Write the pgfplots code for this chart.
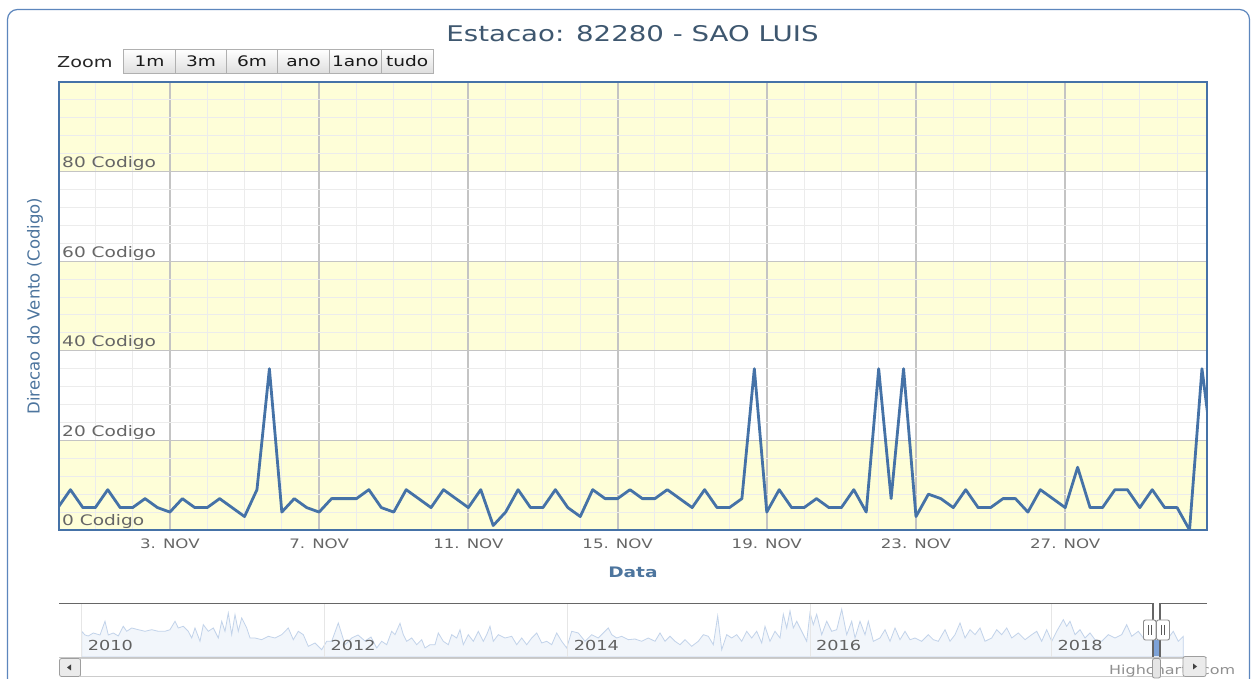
\documentclass[border=0pt]{standalone}
\usepackage{pgfplots}
\pgfplotsset{compat=1.18}
\usepackage{fontspec}
\setmainfont[FakeStretch=1.28]{DejaVu Sans}
\newfontfamily\rotfont{DejaVu Sans}
\newcommand{\fs}[1]{\fontsize{#1}{#1}\selectfont}
\definecolor{hcblue}{HTML}{4572A7}
\definecolor{bandyellow}{HTML}{FEFED8}
\definecolor{titlecol}{HTML}{3E576F}
\definecolor{axtitle}{HTML}{4D759E}
\definecolor{labcol}{HTML}{666666}
\definecolor{gridmaj}{HTML}{C4C4C4}
\definecolor{gridmin}{HTML}{ECECEC}
\definecolor{navline}{HTML}{C2D3EA}
\definecolor{navfill}{HTML}{F2F6FB}
\definecolor{btnfill}{HTML}{EBEBEB}
\definecolor{btnborder}{HTML}{B0B0B0}
\definecolor{credit}{HTML}{909090}
\definecolor{navgrid}{HTML}{E6E6E6}
\definecolor{navsel}{HTML}{7EA3D8}
\definecolor{frame}{HTML}{5C86BD}
\tikzset{img/.style={x=1pt,y=-1pt,yshift=679pt}}

\begin{document}
\begin{tikzpicture}
\useasboundingbox (0pt,0pt) rectangle (1256pt,679pt);
\clip (0pt,0pt) rectangle (1256pt,679pt);
\fill[white] (0pt,0pt) rectangle (1256pt,679pt);
\begin{scope}[img]
\draw[frame, line width=1.2pt, rounded corners=10] (7.5,9.5) rectangle (1249.5,720);
% title
\node[anchor=base, text=titlecol, font=\fs{21.6}, inner sep=0] at (632.5,42) {Estacao: 82280 - SAO LUIS};
% zoom buttons
\node[anchor=base west, font=\fs{15}, text=black!85, inner sep=0] at (57,68) {Zoom};
\foreach \a/\b/\t in {123.5/175.5/1m, 175.5/226.5/3m, 226.5/277.5/6m, 277.5/329.5/ano, 329.5/381/1ano, 381/433.5/tudo}{
  \draw[top color=white, bottom color=black!13, draw=btnborder, line width=0.8pt] (\a,49.5) rectangle (\b,73.5);
  \node[anchor=base, font=\fs{14.5}, text=black!90, inner sep=0] at ({(\a+\b)/2},67) {\t};
}
\end{scope}

% plot bands
\begin{axis}[
  at={(59pt,149pt)}, anchor=south west, scale only axis,
  width=1148pt, height=448pt,
  xmin=0.08, xmax=92.4, ymin=0, ymax=100,
  hide axis,
]
\fill[bandyellow] (axis cs:-5,0) rectangle (axis cs:100,20);
\fill[bandyellow] (axis cs:-5,40) rectangle (axis cs:100,60);
\fill[bandyellow] (axis cs:-5,80) rectangle (axis cs:100,100);
\end{axis}

% main chart
\begin{axis}[
  at={(59pt,149pt)}, anchor=south west, scale only axis,
  width=1148pt, height=448pt,
  xmin=0.08, xmax=92.4, ymin=0, ymax=100,
  axis line style={draw=hcblue, line width=2pt},
  tick style={draw=none},
  xtick={9,21,33,45,57,69,81},
  xticklabels={3. NOV,7. NOV,11. NOV,15. NOV,19. NOV,23. NOV,27. NOV},
  ytick={0,20,40,60,80},
  yticklabels={0 Codigo,20 Codigo,40 Codigo,60 Codigo,80 Codigo},
  minor xtick={0,3,...,93},
  minor ytick={4,8,...,96},
  xmajorgrids, ymajorgrids, xminorgrids, yminorgrids,
  major x grid style={draw=gridmaj, line width=2pt},
  major y grid style={draw=gridmaj, line width=1pt},
  minor x grid style={draw=gridmin, line width=1pt},
  minor y grid style={draw=gridmin, line width=1pt},
  yticklabel style={anchor=base west, xshift=3pt, yshift=4pt, inner sep=0pt, font=\fs{14.5}, text=labcol},
  xticklabel style={anchor=base, yshift=-19pt, inner sep=0pt, font=\fs{13}, text=labcol},
  xlabel={Data},
  xlabel style={at={(axis description cs:0.5,0)}, anchor=base, yshift=-48pt, inner sep=0pt, font=\fs{14.5}\bfseries, text=axtitle},
  ylabel={Direcao do Vento (Codigo)},
  ylabel style={at={(axis description cs:0,0.5)}, anchor=center, yshift=24pt, inner sep=0pt, font=\rotfont\fs{16.5}, text=axtitle},
]
\addplot[hcblue, line width=2.8pt, line join=round, line cap=round, mark=none] coordinates {
(0,5) (1,9) (2,5) (3,5) (4,9) (5,5) (6,5) (7,7) (8,5) (9,4)
(10,7) (11,5) (12,5) (13,7) (14,5) (15,3) (16,9) (17,36) (18,4) (19,7)
(20,5) (21,4) (22,7) (23,7) (24,7) (25,9) (26,5) (27,4) (28,9) (29,7)
(30,5) (31,9) (32,7) (33,5) (34,9) (35,1) (36,4) (37,9) (38,5) (39,5)
(40,9) (41,5) (42,3) (43,9) (44,7) (45,7) (46,9) (47,7) (48,7) (49,9)
(50,7) (51,5) (52,9) (53,5) (54,5) (55,7) (56,36) (57,4) (58,9) (59,5)
(60,5) (61,7) (62,5) (63,5) (64,9) (65,4) (66,36) (67,7) (68,36) (69,3)
(70,8) (71,7) (72,5) (73,9) (74,5) (75,5) (76,7) (77,7) (78,4) (79,9)
(80,7) (81,5) (82,14) (83,5) (84,5) (85,9) (86,9) (87,5) (88,9) (89,5)
(90,5) (91,0) (92,36) (93,14)
};
\end{axis}

% navigator
\begin{scope}[img]
\draw[draw=black!20, line width=0.8pt] (80,658.5) rectangle (1183,676.5);
\node[anchor=base west, font=\fs{12.5}, text=credit, inner sep=0] at (1109,675) {Highcharts.com};
\end{scope}
\begin{axis}[
  at={(59pt,22pt)}, anchor=south west, scale only axis,
  width=1148pt, height=54pt,
  xmin=59, xmax=1207, ymin=0, ymax=54,
  axis on top,
  axis line style={draw=none},
  tick style={draw=none},
  ytick=\empty,
  xtick={81.7,324.5,567.7,810,1051.5},
  xticklabels={2010,2012,2014,2016,2018},
  xmajorgrids,
  major x grid style={draw=navgrid, line width=1pt},
  xticklabel style={anchor=base west, xshift=6pt, yshift=6pt, inner sep=0pt, font=\fs{13.8}, text=black!62},
]
\addplot[draw=navline, line width=0.8pt, fill=navfill] coordinates {
(81.7,25.7) (85,22) (88.3,21) (93.3,24) (100,22) (105,35.7) (108.3,22) (113.3,24) (118.3,21) (123.3,30.7)
(126.7,25.7) (131.7,29) (138.3,27.3) (145,25.7) (151.7,27.3) (158.3,25.7) (165,25.7) (170,27.3) (175,35.7) (178.3,29)
(183.3,30.7) (188.3,25.7) (191.7,19) (195,29) (200,15.7) (203.3,32.3) (208.3,25.7) (213.3,29) (218.3,19) (221.7,35.7)
(225,25.7) (228.3,44) (231.7,22.3) (235,42.3) (238.3,25.7) (241.7,39) (246.7,29) (250,19) (255,19) (261.7,17.3)
(268.3,20.7) (275,19) (281.7,22.3) (288.3,29) (293.3,17.3) (298.3,25.7) (303.3,22.3) (308.3,10.7) (315,14) (321.7,7.3)
(326.7,15.7) (331.7,15.7) (338.3,34) (345,12.3) (351.7,19) (358,22) (365,16) (371,20) (376.7,9) (381.7,15.7)
(386.7,12.3) (391.7,25.7) (395,22.3) (400,33.7) (403.3,22.3) (406.7,15.7) (411.7,19) (416.7,12.3) (421.7,17.3) (425,9)
(430,12.3) (435,12.3) (438.3,24) (443.3,15.7) (448.3,12.3) (451.7,22.3) (456.7,19) (460,27.3) (463.3,12.3) (468.3,22.3)
(473.3,15.7) (478.3,25.7) (483.3,15.7) (486.7,22.3) (490,30.7) (493.3,15.7) (498.3,22.3) (505,19) (511.7,20.7) (516.7,12.3)
(521.7,19) (526.7,12.3) (531.7,19) (536.7,24) (541.7,14) (546.7,15.7) (551.7,12.3) (556.7,24) (561.7,15.7) (566.7,9)
(571.7,25.7) (578.3,24) (585,15.7) (591.7,22.3) (598.3,19) (608.3,29) (611.7,22.3) (616.7,19) (621.7,20.7) (628.3,17.3)
(635,18) (641.7,15.7) (648.3,19) (655,15.7) (660,24) (665,15.7) (670,20.7) (675,15.7) (680,12.3) (685,17.3)
(691.7,10.7) (698.3,15.7) (703.3,22.3) (708.3,20.7) (713.3,12.3) (717.7,41) (721.7,7.3) (726.7,22.3) (731.7,19) (736.7,22.3)
(741.7,15.7) (746.7,25.7) (751.7,19) (756.7,25.7) (761.7,14) (765,30.7) (770,15.7) (775,25.7) (780,19) (783.3,42.7)
(786.7,29) (790,46) (793.3,29) (796.7,35.7) (801.7,25.7) (806.7,15.7) (810,44.3) (813.3,32.3) (816.7,42.7) (821.7,22.3)
(826.7,35.7) (831.7,25.7) (836.7,27.3) (841.7,47.7) (846.7,22.3) (851.7,35.7) (855,19) (860,35.7) (865,22.3) (868.3,35.7)
(873.3,15.7) (880,19) (885,27.3) (890,15.7) (895,29) (900,17.3) (905,25.7) (910,17.3) (915,19) (921.7,15.7)
(928.3,22.3) (933.3,17.3) (938.3,15.7) (945,27.3) (950,15.7) (955,22.3) (960,34) (965,19) (970,27.3) (975,22.3)
(980,29) (985,15.7) (991.7,19) (996.7,27.3) (1001.7,22.3) (1006.7,29) (1011.7,19) (1018.3,24) (1025,17.3) (1031.7,22.3)
(1036.7,25.7) (1041.7,15.7) (1046.7,27.3) (1051.7,15.7) (1056.7,25.7) (1063.3,37.3) (1066.7,30.7) (1070,35.7) (1075,22.3) (1080,27.3)
(1085,19) (1090,24) (1095,17.3) (1101.7,15.7) (1108.3,22.3) (1115,19) (1121.7,22.3) (1126.7,32.3) (1131.7,20.7) (1138.3,25.7)
(1143.3,19) (1148.3,29) (1155,19) (1161.7,25.7) (1168.3,19) (1173.3,25.7) (1178.3,15.7) (1183.3,20.7)
} \closedcycle;
\end{axis}
\begin{scope}[img]
\draw[black!22, line width=0.8pt] (59,657) -- (1207,657);
\draw[black!60, line width=1.5pt] (59,603.5) -- (1153,603.5) -- (1153,657);
\draw[black!60, line width=1.5pt] (1160,657) -- (1160,603.5) -- (1207,603.5);
\fill[navsel] (1153.8,640) rectangle (1159.2,656.5);
\draw[fill=btnfill, draw=black!38, line width=0.8pt, rounded corners=2] (59.5,658.5) rectangle (80.5,676.5);
\fill[black!75] (67,667.5) -- (71,664.5) -- (71,670.5) -- cycle;
\draw[fill=btnfill, draw=black!38, line width=0.8pt, rounded corners=2] (1183,656.5) rectangle (1206,676.5);
\fill[black!75] (1197,666.5) -- (1193,663.5) -- (1193,669.5) -- cycle;
\draw[fill=black!10, draw=black!40, line width=0.8pt, rounded corners=2] (1152.5,658.5) rectangle (1160.5,678);
\draw[fill=white, draw=black!45, line width=0.9pt, rounded corners=2] (1143.5,620) rectangle (1156,640);
\draw[black!65, line width=1pt] (1148,625) -- (1148,635) (1151.5,625) -- (1151.5,635);
\draw[fill=white, draw=black!45, line width=0.9pt, rounded corners=2] (1156.5,620) rectangle (1169.5,640);
\draw[black!65, line width=1pt] (1161,625) -- (1161,635) (1164.5,625) -- (1164.5,635);
\end{scope}
\end{tikzpicture}
\end{document}
